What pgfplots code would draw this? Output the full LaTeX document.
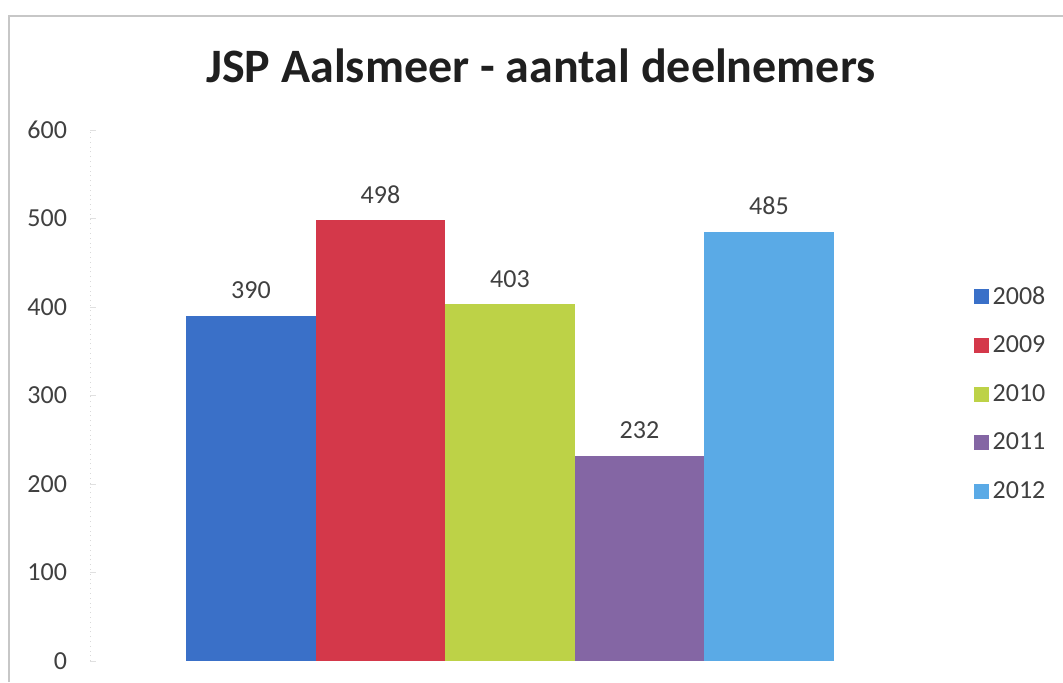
\documentclass[border=0pt]{standalone}
\usepackage{fontspec}
\setmainfont{Carlito}
\usepackage{pgfplots}
\pgfplotsset{compat=1.18}

\definecolor{c2008}{HTML}{3A70C8}
\definecolor{c2009}{HTML}{D4384A}
\definecolor{c2010}{HTML}{BDD247}
\definecolor{c2011}{HTML}{8466A4}
\definecolor{c2012}{HTML}{5AAAE6}
\definecolor{txt}{HTML}{404040}

\begin{document}
\begin{tikzpicture}
\useasboundingbox (0,0) rectangle (531.5pt,341pt);
% chart frame (cut off at right and bottom)
\draw[color=black!22, line width=0.6pt] (4.5pt,0) -- (4.5pt,333pt) -- (531.5pt,333pt);
\node[font=\bfseries\fontsize{24}{28}\selectfont, text=black!88, anchor=base] at (270.5pt,300pt) {JSP Aalsmeer - aantal deelnemers};

\begin{axis}[
    at={(45pt,10.5pt)}, anchor=south west,
    scale only axis, width=420pt, height=265.5pt,
    xmin=-1, xmax=1, ymin=0, ymax=600,
    ytick={0,100,...,600}, xtick=\empty,
    axis x line=none, axis y line*=left,
    y axis line style={draw=black!15, dotted},
    ytick style={draw=black!12},
    major tick length=3pt,
    /pgf/number format/assume math mode=true,
    tick label style={font=\fontsize{13}{15}\selectfont, text=txt},
    yticklabel style={xshift=-8pt},
    ybar=0pt, bar width=64.75pt,
    every axis plot/.append style={draw=none},
    nodes near coords,
    nodes near coords style={font=\fontsize{13}{15}\selectfont, text=txt, yshift=5pt},
    legend image code/.code={\fill[#1] (0pt,-3.75pt) rectangle (7.5pt,3.75pt);},
    legend style={draw=none, fill=none, at={(axis description cs:1.052,0.503)}, anchor=west,
        inner sep=0pt, font=\fontsize{13}{15}\selectfont, text=txt, row sep=10.7pt,
        nodes={inner sep=1.8pt}},
]
\addplot[fill=c2008] coordinates {(0,390)};
\addplot[fill=c2009] coordinates {(0,498)};
\addplot[fill=c2010] coordinates {(0,403)};
\addplot[fill=c2011] coordinates {(0,232)};
\addplot[fill=c2012] coordinates {(0,485)};
\legend{2008,2009,2010,2011,2012}
\end{axis}
\end{tikzpicture}
\end{document}
